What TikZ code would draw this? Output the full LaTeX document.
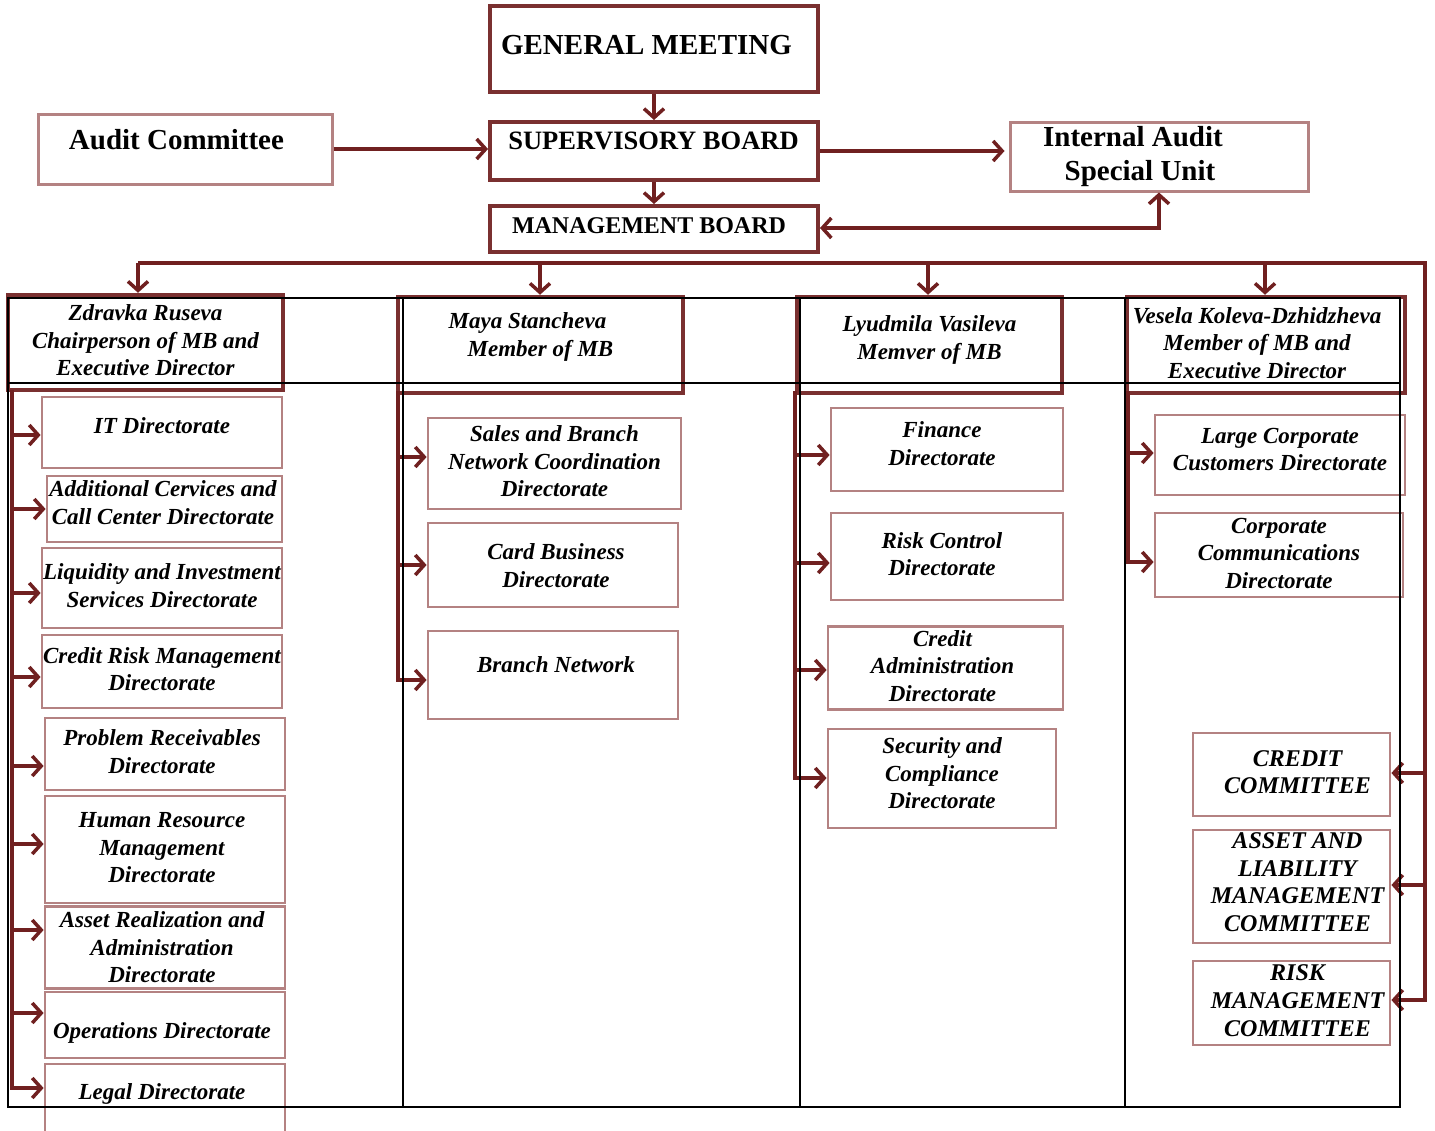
\documentclass[tikz,border=0pt]{standalone}
\usepackage{fontspec}
\setmainfont{Liberation Serif}
\usetikzlibrary{arrows.meta}
\definecolor{ar}{RGB}{112,32,32}
\definecolor{dk}{RGB}{122,48,48}
\definecolor{lt}{RGB}{180,130,130}
\newcommand\tb[1]{\begin{tabular}{@{}c@{}}#1\end{tabular}}
\newcommand\nudge[3]{\raisebox{#2}[\height][\depth]{\hspace*{#1}#3\hspace*{-#1}}}
\tikzset{
  wh/.style 2 args={minimum width=#1pt, minimum height=#2pt},
  topbox/.style={draw=dk, line width=4pt, fill=white, inner sep=0pt, font=\bfseries},
  sidebox/.style={draw=lt, line width=3pt, fill=white, inner sep=0pt, font=\bfseries},
  headbox/.style={draw=dk, line width=4.5pt, fill=white, inner sep=0pt,
    font=\fontsize{23}{27.5}\selectfont\bfseries\itshape},
  subbox/.style={draw=lt, line width=2.8pt, fill=white, inner sep=0pt,
    font=\fontsize{23}{27.5}\selectfont\bfseries\itshape},
  combox/.style={draw=lt, line width=2.8pt, fill=white, inner sep=0pt,
    font=\fontsize{24}{27.6}\selectfont\bfseries\itshape},
  ln/.style={draw=ar, line width=3.5pt},
  arr/.style={ln, -{Straight Barb[length=9pt,width=20pt]}},
  arrtwo/.style={ln, {Straight Barb[length=9pt,width=20pt]}-{Straight Barb[length=9pt,width=20pt]}},
  grid/.style={draw=black, line width=2pt}
}
\begin{document}
\begin{tikzpicture}[x=1pt,y=-1pt]
\useasboundingbox[fill=white] (0,0) rectangle (1435,1130);

% top level
\node[topbox, wh={328}{86}, font=\fontsize{29}{34}\selectfont\bfseries] (gm) at (654,49) {\nudge{-7.5pt}{4pt}{GENERAL MEETING}};
\node[topbox, wh={328}{58}, font=\fontsize{26.5}{32}\selectfont\bfseries] (sb) at (654,151) {\nudge{-0.5pt}{10pt}{SUPERVISORY BOARD}};
\node[topbox, wh={328}{46}, font=\fontsize{24}{29}\selectfont\bfseries] (mb) at (654,229) {\nudge{-5pt}{3pt}{MANAGEMENT BOARD}};
\node[sidebox, wh={294}{70}, font=\fontsize{29}{34}\selectfont\bfseries] (ac) at (185,149) {\nudge{-8.5pt}{9pt}{Audit Committee}};
\node[sidebox, wh={298}{69}, font=\fontsize{29}{34}\selectfont\bfseries] (ia) at (1159,156.5) {\nudge{-26pt}{0pt}{\tb{Internal Audit\\\hspace*{14pt}Special Unit}}};

\draw[arr] (gm.south) -- (sb.north);
\draw[arr] (sb.south) -- (mb.north);
\draw[arr] (ac.east) -- (ac.east -| sb.west);
\draw[arr] (sb.east) -- ([xshift=-4pt]sb.east -| ia.west);
\draw[arrtwo] (mb.east |- 0,228) -| (ia.south);

% headers
\node[headbox, wh={275}{95}] (h1) at (145.5,342.5) {\tb{Zdravka Ruseva\\Chairperson of MB and\\Executive Director}};
\node[headbox, wh={285}{96}] (h2) at (540.5,345) {\nudge{0pt}{8pt}{\tb{\hspace*{-26pt}Maya Stancheva\\Member of MB}}};
\node[headbox, wh={265}{96}] (h3) at (929.5,345) {\nudge{0pt}{5pt}{\tb{Lyudmila Vasileva\\Memver of MB}}};
\node[headbox, wh={278}{96}] (h4) at (1266,345) {\nudge{-9pt}{0pt}{\tb{Vesela Koleva-Dzhidzheva\\Member of MB and\\Executive Director}}};

% bus
\coordinate (bL) at (138,263);
\coordinate (bR) at (1425,263);
\coordinate (d2) at (540,263);
\coordinate (d3) at (928,263);
\coordinate (d4) at (1265,263);
\draw[arr] (bL) -- (bL |- h1.north);
\draw[arr] (d2) -- (d2 |- h2.north);
\draw[arr] (d3) -- (d3 |- h3.north);
\draw[arr] (d4) -- (d4 |- h4.north);

% column 1
\node[subbox, wh={240}{71}] (it) at (162,432.5) {\nudge{0pt}{7pt}{IT Directorate}};
\node[subbox, wh={235}{66}] (ad) at (164.5,509) {\nudge{-1.5pt}{4pt}{\tb{Additional Cervices and\\Call Center Directorate}}};
\node[subbox, wh={240}{80}] (lq) at (162,588) {\tb{Liquidity and Investment\\Services Directorate}};
\node[subbox, wh={240}{73}] (cr) at (162,671.5) {\tb{Credit Risk Management\\Directorate}};
\node[subbox, wh={240}{72}] (pr) at (165,754) {\nudge{-3pt}{0pt}{\tb{Problem Receivables\\Directorate}}};
\node[subbox, wh={240}{107}] (hr) at (165,849.5) {\nudge{-3pt}{0pt}{\tb{Human Resource\\Management\\Directorate}}};
\node[subbox, wh={240}{75}] (as) at (165,947.5) {\nudge{-3pt}{-2pt}{\tb{Asset Realization and\\Administration\\Directorate}}};
\node[subbox, wh={240}{66}] (op) at (165,1025) {\nudge{-3pt}{-8pt}{Operations Directorate}};
\node[subbox, wh={240}{76}] (lg) at (165,1102) {\nudge{-3pt}{8pt}{Legal Directorate}};

\coordinate (t1) at (12,390);
\draw[arr] (t1) |- (lg.west |- 0,1088);
\foreach \n/\y in {it/435, ad/509, lq/593, cr/677, pr/766, hr/844, as/930, op/1013}
  \draw[arr] (t1 |- 0,\y) -- (\n.west |- 0,\y);

% column 2
\node[subbox, wh={253}{91}] (sl) at (554.5,463.5) {\tb{Sales and Branch\\Network Coordination\\Directorate}};
\node[subbox, wh={250}{84}] (cb) at (553,565) {\nudge{3pt}{-3pt}{\tb{Card Business\\Directorate}}};
\node[subbox, wh={250}{88}] (bn) at (553,675) {\nudge{3pt}{10pt}{Branch Network}};
\coordinate (t2) at (398,391);
\draw[arr] (t2) |- (bn.west |- 0,680);
\foreach \n/\y in {sl/457, cb/565}
  \draw[arr] (t2 |- 0,\y) -- (\n.west |- 0,\y);

% column 3
\node[subbox, wh={232}{83}] (fi) at (947,449.5) {\nudge{-5pt}{3.5pt}{\tb{Finance\\Directorate}}};
\node[subbox, wh={232}{87}] (rc) at (947,556.5) {\nudge{-5pt}{0pt}{\tb{Risk Control\\Directorate}}};
\node[subbox, wh={235}{80}] (ca) at (945.5,668) {\nudge{-3pt}{0pt}{\tb{Credit\\Administration\\Directorate}}};
\node[subbox, wh={228}{99}] (sc) at (942,778.5) {\nudge{0pt}{3pt}{\tb{Security and\\Compliance\\Directorate}}};
\coordinate (t3) at (795,391);
\draw[arr] (t3) |- (sc.west |- 0,778);
\foreach \n/\y in {fi/455, rc/563, ca/670}
  \draw[arr] (t3 |- 0,\y) -- (\n.west |- 0,\y);

% column 4
\node[subbox, wh={250}{80}] (lc) at (1280,455) {\nudge{0pt}{3.5pt}{\tb{Large Corporate\\Customers Directorate}}};
\node[subbox, wh={248}{84}] (cc) at (1279,555) {\tb{Corporate\\Communications\\Directorate}};
\coordinate (t4) at (1128,391);
\draw[arr] (t4) |- (cc.west |- 0,562);
\draw[arr] (t4 |- 0,453) -- (lc.west |- 0,453);

% committees
\node[combox, wh={197}{83}] (crc) at (1291.5,774.5) {\nudge{6pt}{0pt}{\tb{CREDIT\\COMMITTEE}}};
\node[combox, wh={197}{113}] (alm) at (1291.5,886.5) {\nudge{6pt}{2pt}{\tb{ASSET AND\\LIABILITY\\MANAGEMENT\\COMMITTEE}}};
\node[combox, wh={197}{84}] (rmc) at (1291.5,1003) {\nudge{6pt}{0pt}{\tb{RISK\\MANAGEMENT\\COMMITTEE}}};

\draw[arr] (bL) -- (bR) |- (rmc.east |- 0,1000);
\draw[arr] (bR |- 0,773) -- (crc.east |- 0,773);
\draw[arr] (bR |- 0,885) -- (alm.east |- 0,885);

% black table grid
\draw[grid] (8,298) rectangle (1400,1107);
\draw[grid] (8,383) -- (1400,383);
\draw[grid] (403,298) -- (403,1107);
\draw[grid] (800,298) -- (800,1107);
\draw[grid] (1125,298) -- (1125,1107);
\end{tikzpicture}
\end{document}
